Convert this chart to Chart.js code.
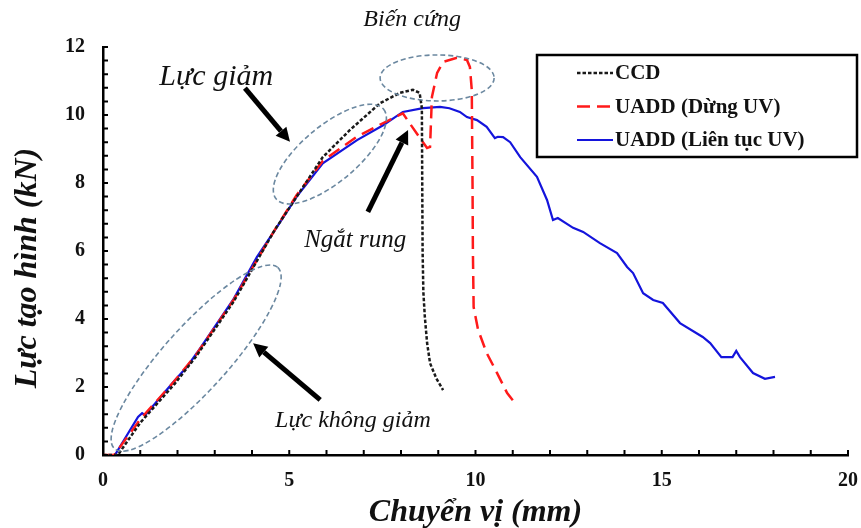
<!DOCTYPE html>
<html>
<head>
<meta charset="utf-8">
<script src="https://cdn.jsdelivr.net/npm/chart.js@4"></script>
<style>
  html, body { margin: 0; padding: 0; background: #fff; }
  #wrap { width: 861px; height: 528px; position: relative; }
</style>
</head>
<body>
<div id="wrap"><canvas id="c"></canvas></div>
<script>
"use strict";
const SERIF = "'Liberation Serif', 'Times New Roman', serif";

// CCD (black dotted)
const ccdX = [0, 0.4, 1.0, 1.93, 2.5, 3.5, 4.6, 5.37, 5.9, 6.63, 7.44, 7.97, 8.32, 8.5, 8.56, 8.57, 8.58, 8.6, 8.64, 8.7, 8.78, 8.95, 9.13];
const ccdY = [0, 0, 0.95, 2.1, 2.9, 4.5, 6.6, 7.88, 8.76, 9.56, 10.35, 10.65, 10.74, 10.65, 10.2, 8.0, 6.0, 4.8, 4.06, 3.3, 2.7, 2.25, 1.91];

// UADD (Dừng UV) (red dashed)
const stopX = [0, 0.3, 1.0, 1.9, 2.5, 3.5, 4.6, 5.2, 5.9, 6.8, 7.5, 8.05, 8.3, 8.51, 8.7, 8.78, 8.8, 8.83, 8.97, 9.13, 9.5, 9.77, 9.85, 9.9, 9.92, 9.93, 9.95, 10.07, 10.3, 10.58, 10.85, 11.06, 11.1];
const stopY = [0, 0, 1.05, 2.15, 2.95, 4.55, 6.6, 7.65, 8.65, 9.35, 9.75, 10.05, 9.65, 9.32, 9.03, 9.06, 9.65, 10.53, 11.24, 11.56, 11.68, 11.62, 11.41, 10.74, 8.0, 6.0, 4.35, 3.68, 3.0, 2.41, 1.82, 1.53, 1.47];

// UADD (Liên tục UV) (blue solid)
const contX = [0, 0.32, 0.94, 1.05, 1.13, 1.93, 2.25, 2.52, 3.49, 4.13, 4.62, 5.2, 5.9, 6.82, 7.52, 8.05, 8.59, 9.05, 9.3, 9.58, 9.77, 10.04, 10.3, 10.52, 10.6, 10.74, 10.93, 11.2, 11.65, 11.92, 12.08, 12.21, 12.62, 12.89, 13.34, 13.8, 14.07, 14.23, 14.5, 14.77, 15.03, 15.49, 16.1, 16.3, 16.6, 16.9, 17.0, 17.1, 17.45, 17.77, 18.04];
const contY = [0, 0, 1.12, 1.23, 1.17, 2.2, 2.59, 3.0, 4.56, 5.82, 6.62, 7.6, 8.58, 9.26, 9.7, 10.09, 10.2, 10.24, 10.2, 10.09, 9.94, 9.85, 9.65, 9.32, 9.36, 9.35, 9.2, 8.76, 8.18, 7.5, 6.91, 6.97, 6.68, 6.56, 6.23, 5.94, 5.53, 5.35, 4.76, 4.56, 4.47, 3.88, 3.47, 3.29, 2.88, 2.88, 3.06, 2.88, 2.41, 2.24, 2.3];

const seriesLabels = ["CCD", "UADD (Dừng UV)", "UADD (Liên tục UV)"];
const yTitle = "Lực tạo hình (kN)";
const xTitle = "Chuyển vị (mm)";

// annotations, in data units
const notes = [
  { text: "Biến cứng", x: 8.3, y: 12.79, size: 24 },
  { text: "Lực giảm", x: 3.04, y: 11.12, size: 30 },
  { text: "Ngắt rung", x: 6.77, y: 6.32, size: 25 },
  { text: "Lực không giảm", x: 6.71, y: 1.0, size: 24 }
];
const ellipses = [
  { x: 8.97, y: 11.09, rx: 57, ry: 23, rot: 0 },
  { x: 6.09, y: 8.85, rx: 70, ry: 28, rot: -40 },
  { x: 2.50, y: 2.85, rx: 122, ry: 32, rot: -48 }
];
const arrows = [
  { x0: 3.81, y0: 10.79, x1: 5.02, y1: 9.21 },
  { x0: 7.11, y0: 7.15, x1: 8.19, y1: 9.56 },
  { x0: 5.83, y0: 1.62, x1: 4.03, y1: 3.29 }
];

const pts = (xs, ys) => xs.map((x, i) => ({ x, y: ys[i] }));

const extras = {
  id: "extras",
  afterDraw(chart) {
    const { ctx, chartArea: a, scales: { x, y } } = chart;
    ctx.save();
    // inward minor ticks
    ctx.strokeStyle = "#000";
    ctx.lineWidth = 2;
    ctx.beginPath();
    for (let i = 0; i <= 20; i++) {
      const px = x.getPixelForValue(i);
      ctx.moveTo(px, a.bottom); ctx.lineTo(px, a.bottom - 5);
    }
    for (let i = 0; i <= 30; i++) {
      const py = y.getPixelForValue(i * 0.4);
      ctx.moveTo(a.left, py); ctx.lineTo(a.left + 5, py);
    }
    ctx.stroke();

    // y axis title (sits a little below the axis centre)
    ctx.save();
    ctx.translate(28, y.getPixelForValue(5.5));
    ctx.rotate(-Math.PI / 2);
    ctx.font = `italic bold 32px ${SERIF}`;
    ctx.fillStyle = "#111";
    ctx.textAlign = "center";
    ctx.textBaseline = "middle";
    ctx.fillText(yTitle, 0, 0);
    ctx.restore();

    // ellipses
    ctx.strokeStyle = "#6b88a0";
    ctx.lineWidth = 1.6;
    ctx.setLineDash([5, 3]);
    ellipses.forEach(e => {
      ctx.beginPath();
      ctx.ellipse(x.getPixelForValue(e.x), y.getPixelForValue(e.y), e.rx, e.ry, e.rot * Math.PI / 180, 0, Math.PI * 2);
      ctx.stroke();
    });
    ctx.setLineDash([]);

    // arrows
    ctx.strokeStyle = "#000";
    ctx.fillStyle = "#000";
    arrows.forEach(r => {
      const ax = x.getPixelForValue(r.x0), ay = y.getPixelForValue(r.y0);
      const bx = x.getPixelForValue(r.x1), by = y.getPixelForValue(r.y1);
      const ang = Math.atan2(by - ay, bx - ax);
      const hl = 14, hw = 7;
      const cx = bx - hl * Math.cos(ang), cy = by - hl * Math.sin(ang);
      ctx.lineWidth = 5;
      ctx.beginPath(); ctx.moveTo(ax, ay); ctx.lineTo(cx, cy); ctx.stroke();
      ctx.beginPath();
      ctx.moveTo(bx, by);
      ctx.lineTo(cx + hw * Math.sin(ang), cy - hw * Math.cos(ang));
      ctx.lineTo(cx - hw * Math.sin(ang), cy + hw * Math.cos(ang));
      ctx.closePath(); ctx.fill();
    });

    // italic notes
    ctx.fillStyle = "#111";
    ctx.textAlign = "center";
    ctx.textBaseline = "middle";
    notes.forEach(n => {
      ctx.font = `italic ${n.size}px ${SERIF}`;
      ctx.fillText(n.text, x.getPixelForValue(n.x), y.getPixelForValue(n.y));
    });

    // legend box
    const lx = a.right - 311, ly = a.top + 8, lw = 320, lh = 102;
    ctx.lineWidth = 2.5;
    ctx.strokeStyle = "#000";
    ctx.strokeRect(lx, ly, lw, lh);
    ctx.font = `bold 21px ${SERIF}`;
    ctx.textAlign = "left";
    chart.data.datasets.forEach((d, i) => {
      const cy = ly + 18 + i * 33.5;
      ctx.strokeStyle = d.borderColor;
      ctx.lineWidth = d.borderWidth;
      ctx.setLineDash(d.borderDash || []);
      ctx.beginPath(); ctx.moveTo(lx + 40, cy); ctx.lineTo(lx + 76, cy); ctx.stroke();
      ctx.setLineDash([]);
      ctx.fillStyle = "#111";
      ctx.fillText(d.label, lx + 78, cy + 1);
    });
    ctx.restore();
  }
};

new Chart(document.getElementById("c"), {
  type: "scatter",
  data: {
    datasets: [
      { label: seriesLabels[0], data: pts(ccdX, ccdY), showLine: true, borderColor: "#1a1a1a", borderWidth: 2.5, borderDash: [3.5, 2], pointRadius: 0, tension: 0 },
      { label: seriesLabels[1], data: pts(stopX, stopY), showLine: true, borderColor: "#ff1a1a", borderWidth: 2.5, borderDash: [13, 7], pointRadius: 0, tension: 0 },
      { label: seriesLabels[2], data: pts(contX, contY), showLine: true, borderColor: "#1414dc", borderWidth: 2.2, pointRadius: 0, tension: 0 }
    ]
  },
  options: {
    responsive: true,
    maintainAspectRatio: false,
    animation: false,
    layout: { padding: { top: 47, right: 13, left: 0, bottom: 0 } },
    plugins: { legend: { display: false }, tooltip: { enabled: false } },
    scales: {
      x: {
        type: "linear", min: 0, max: 20,
        afterFit: s => { s.height = 73; s.paddingLeft = 0; s.paddingRight = 0; },
        grid: { display: false, drawTicks: false },
        border: { display: true, color: "#000", width: 2.5 },
        ticks: { stepSize: 5, padding: 14, color: "#111", font: { family: SERIF, weight: "bold", size: 20 } },
        title: { display: true, text: xTitle, color: "#111", padding: { top: 0, bottom: -4 }, font: { family: SERIF, weight: "bold", style: "italic", size: 32 } }
      },
      y: {
        type: "linear", min: 0, max: 12,
        afterFit: s => { s.width = 103; s.paddingTop = 0; s.paddingBottom = 0; },
        grid: { display: false, drawTicks: false },
        border: { display: true, color: "#000", width: 2.5 },
        ticks: { stepSize: 2, padding: 18, color: "#111", font: { family: SERIF, weight: "bold", size: 20 } },
        title: { display: false }
      }
    }
  },
  plugins: [extras]
});
</script>
</body>
</html>
